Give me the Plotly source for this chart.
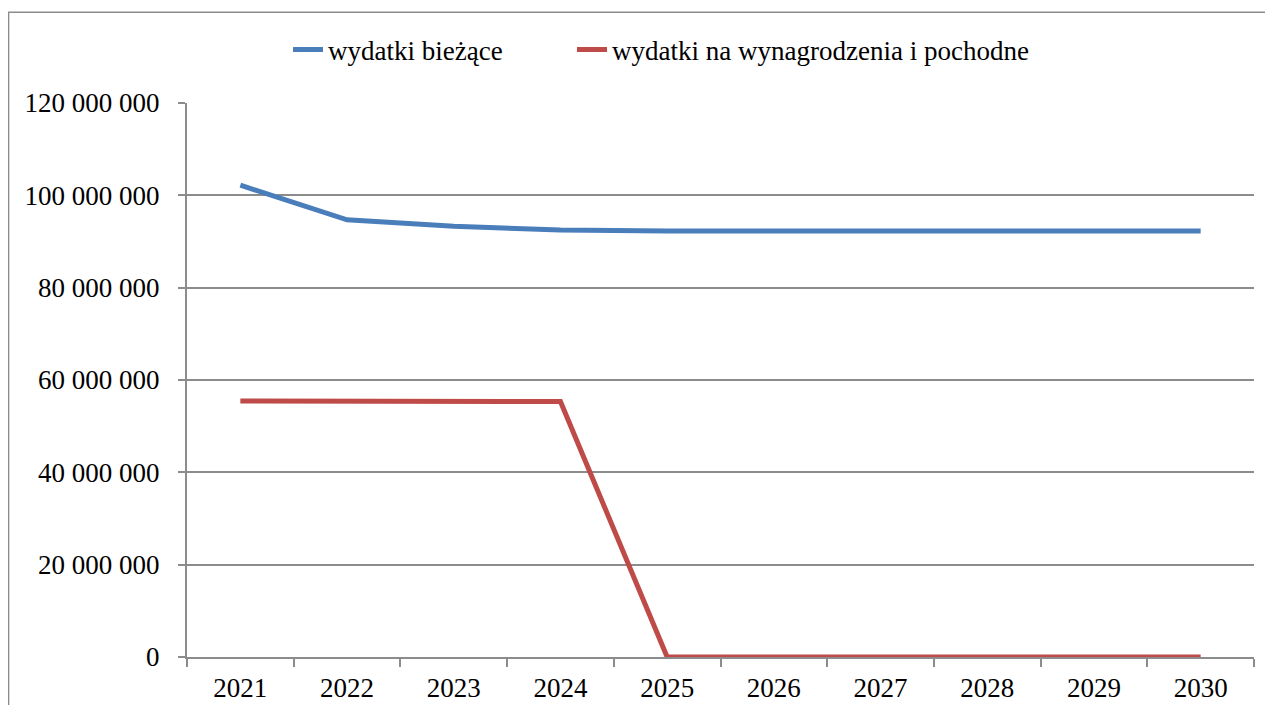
import plotly.graph_objects as go

lata = ['2021', '2022', '2023', '2024', '2025', '2026', '2027', '2028', '2029', '2030']
wydatki_biezace = [102200000, 94700000, 93300000, 92500000, 92300000,
                   92300000, 92300000, 92300000, 92300000, 92300000]
wydatki_wynagrodzenia = [55450000, 55400000, 55400000, 55350000, 0,
                         0, 0, 0, 0, 0]

FONT = 'Liberation Serif'
GRID = '#8c8c8c'

fig = go.Figure()

fig.add_trace(go.Scatter(
    x=lata, y=wydatki_biezace, mode='lines', name='wydatki bieżące',
    line=dict(color='#4a7ebb', width=5), legend='legend'
))
fig.add_trace(go.Scatter(
    x=lata, y=wydatki_wynagrodzenia, mode='lines',
    name='wydatki na wynagrodzenia i pochodne',
    line=dict(color='#be4b48', width=5), legend='legend2'
))

# strona ma 8px marginesu body, więc figura jest o tyle mniejsza
fig.update_layout(
    width=1257, height=697,
    margin=dict(l=179, r=11, t=95, b=48),
    paper_bgcolor='white', plot_bgcolor='white',
    font=dict(family=FONT, size=27, color='black'),
    separators=', ',
    showlegend=True,
    legend=dict(orientation='h', xref='container', yref='container',
                x=280 / 1257, xanchor='left', y=1 - 42 / 697, yanchor='middle',
                font=dict(family=FONT, size=27)),
    legend2=dict(orientation='h', xref='container', yref='container',
                 x=564 / 1257, xanchor='left', y=1 - 42 / 697, yanchor='middle',
                 font=dict(family=FONT, size=27)),
    xaxis=dict(type='category', showgrid=False, showline=True, linecolor=GRID, linewidth=2,
               ticks='outside', tickson='boundaries', ticklen=8, tickcolor=GRID, tickwidth=2,
               range=[-0.5, 9.5], ticklabelstandoff=6, automargin=False,
               tickfont=dict(family=FONT, size=27)),
    yaxis=dict(range=[0, 120000000], dtick=20000000, tickformat=',d',
               showgrid=True, gridcolor=GRID, gridwidth=1.5, zeroline=False,
               showline=True, linecolor=GRID, linewidth=2,
               ticks='outside', ticklen=7, tickcolor=GRID, tickwidth=2,
               ticklabelstandoff=13, automargin=False,
               tickfont=dict(family=FONT, size=27)),
    shapes=[dict(type='rect', xref='paper', yref='paper',
                 x0=-0.1672, x1=1.05, y0=-0.2, y1=1.164,
                 line=dict(color='#8c8c8c', width=1.5), layer='below')]
)

fig.write_html("out.html")
